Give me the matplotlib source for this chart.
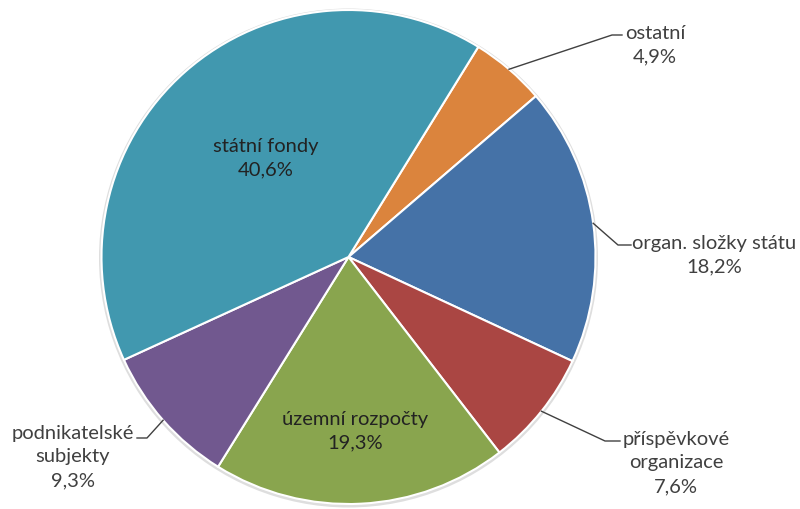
import numpy as np
import matplotlib
matplotlib.use('Agg')
import matplotlib.pyplot as plt
from matplotlib.patches import Circle

plt.rcParams.update({'font.family': ['Lato', 'DejaVu Sans'], 'font.size': 14.5})

labels = ['ostatní', 'organ. složky státu', 'příspěvkové\norganizace',
          'územní rozpočty', 'podnikatelské\nsubjekty', 'státní fondy']
values = [4.9, 18.2, 7.6, 19.3, 9.3, 40.6]
colors = ['#DB843D', '#4572A7', '#AA4643', '#89A54E', '#71588F', '#4198AF']

fig = plt.figure(figsize=(8, 5.1), dpi=100)
ax = fig.add_axes([0, 0, 1, 1])

cx, cy, r = 348.5, 252, 247
# faint shadow ring behind the pie
ax.add_patch(Circle((cx, cy - 1), r + 2.5, facecolor='#dedede', edgecolor='none', zorder=0))
wedges, _ = ax.pie(values, colors=colors, startangle=58.3, counterclock=False,
                   center=(cx, cy), radius=r,
                   wedgeprops={'edgecolor': 'white', 'linewidth': 1.5})

# label placement: text centre, and for outside labels elbow + end of leader
place = [
    ((655, 465), [(612, 474), (622, 474)]),
    ((714, 255), [(618, 264), (631, 264)]),
    ((676, 47), [(605, 68), (620, 68)]),
    ((355, 79), None),
    ((73, 53), [(147, 71), (137, 71)]),
    ((266, 352), None),
]

for w, lab, v, (pos, leader) in zip(wedges, labels, values, place):
    txt = lab + '\n' + ('%.1f%%' % v).replace('.', ',')
    tc = '#404040' if leader else '#222222'
    ax.text(pos[0], pos[1], txt, ha='center', va='center', color=tc,
            linespacing=1.47)
    if leader:
        mid = np.deg2rad((w.theta1 + w.theta2) / 2)
        sx = cx + r * np.cos(mid)
        sy = cy + r * np.sin(mid)
        xs = [sx] + [p[0] for p in leader]
        ys = [sy] + [p[1] for p in leader]
        ax.plot(xs, ys, color='#404040', lw=1)

ax.set_xlim(0, 800)
ax.set_ylim(0, 510)
ax.axis('off')
plt.savefig('out.png', dpi=100)
